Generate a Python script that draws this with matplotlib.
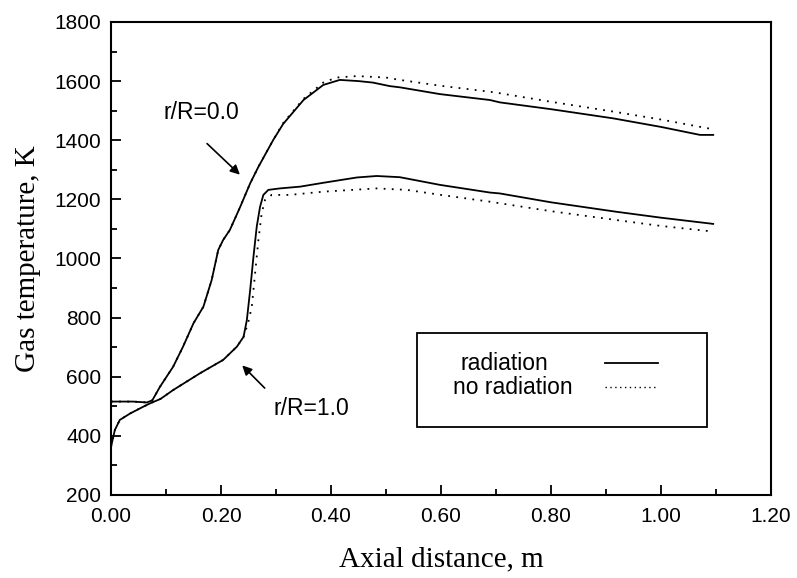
import matplotlib
matplotlib.use("Agg")
import matplotlib.pyplot as plt
from matplotlib.ticker import MultipleLocator, FormatStrFormatter
from matplotlib.patches import Rectangle

# r/R = 0.0 (centerline), with radiation
x_c_rad = [0.0, 0.04, 0.065, 0.075, 0.089, 0.113, 0.131, 0.150, 0.168, 0.183,
           0.195, 0.204, 0.216, 0.235, 0.253, 0.268, 0.295, 0.313, 0.350, 0.386,
           0.416, 0.450, 0.476, 0.507, 0.525, 0.598, 0.689, 0.707, 0.800, 0.913,
           1.000, 1.071, 1.095]
T_c_rad = [516, 516, 513, 520, 566, 634, 702, 781, 837, 927,
           1029, 1063, 1096, 1175, 1254, 1310, 1401, 1455, 1536, 1587,
           1604, 1600, 1595, 1583, 1579, 1556, 1536, 1528, 1505, 1474,
           1445, 1418, 1418]

# r/R = 0.0, no radiation
x_c_norad = [0.0, 0.04, 0.065, 0.075, 0.089, 0.113, 0.131, 0.150, 0.168, 0.183,
             0.195, 0.204, 0.216, 0.235, 0.253, 0.268, 0.295, 0.313, 0.350, 0.386,
             0.410, 0.447, 0.500, 0.525, 0.600, 0.689, 0.707, 0.800, 0.913, 1.000,
             1.095]
T_c_norad = [516, 516, 513, 520, 566, 634, 702, 781, 837, 927,
             1029, 1063, 1096, 1175, 1254, 1310, 1401, 1458, 1540, 1595,
             1612, 1617, 1612, 1604, 1584, 1564, 1559, 1530, 1497, 1470,
             1437]

# r/R = 1.0 (wall), with radiation
x_w_rad = [0.0, 0.007, 0.016, 0.035, 0.059, 0.071, 0.090, 0.113, 0.162, 0.204,
           0.229, 0.241, 0.247, 0.253, 0.259, 0.265, 0.271, 0.277, 0.286, 0.307,
           0.344, 0.386, 0.447, 0.483, 0.525, 0.598, 0.689, 0.707, 0.800, 0.919,
           1.000, 1.095]
T_w_rad = [363, 420, 454, 476, 499, 510, 525, 555, 612, 657,
           702, 735, 792, 893, 1006, 1108, 1175, 1215, 1232, 1237,
           1243, 1256, 1274, 1279, 1275, 1249, 1223, 1220, 1190, 1158,
           1138, 1117]

# r/R = 1.0, no radiation
x_w_norad = [0.0, 0.007, 0.016, 0.035, 0.059, 0.071, 0.090, 0.113, 0.162, 0.204,
             0.229, 0.241, 0.249, 0.256, 0.262, 0.268, 0.274, 0.280, 0.292, 0.325,
             0.386, 0.483, 0.538, 0.600, 0.689, 0.800, 0.919, 1.000, 1.095]
T_w_norad = [363, 420, 454, 476, 499, 510, 525, 555, 612, 657,
             702, 735, 780, 837, 950, 1063, 1153, 1198, 1215, 1215,
             1226, 1237, 1232, 1215, 1192, 1160, 1130, 1110, 1091]

x_ticks = [0.0, 0.2, 0.4, 0.6, 0.8, 1.0, 1.2]
y_ticks = [200, 400, 600, 800, 1000, 1200, 1400, 1600, 1800]
legend_labels = ["radiation", "no radiation"]

sans = "Liberation Sans"
serif = "Liberation Serif"

fig = plt.figure(figsize=(7.97, 5.78), dpi=100)
ax = fig.add_axes([0.1393, 0.1436, 0.828, 0.8184])

lw = 1.3
dot = (0, (1, 3.5))
ax.plot(x_c_rad, T_c_rad, color="black", lw=lw)
ax.plot(x_c_norad, T_c_norad, color="black", lw=lw, linestyle=dot)
ax.plot(x_w_rad, T_w_rad, color="black", lw=lw)
ax.plot(x_w_norad, T_w_norad, color="black", lw=lw, linestyle=dot)

ax.set_xlim(0, 1.2)
ax.set_ylim(200, 1800)
ax.set_xticks(x_ticks)
ax.set_yticks(y_ticks)
ax.xaxis.set_minor_locator(MultipleLocator(0.1))
ax.yaxis.set_minor_locator(MultipleLocator(100))
ax.xaxis.set_major_formatter(FormatStrFormatter("%.2f"))
ax.tick_params(which="both", direction="in", top=False, right=False, width=1.3)
ax.tick_params(which="major", length=7, labelsize=15, pad=7)
ax.tick_params(axis="x", which="major", pad=9)
ax.tick_params(which="minor", length=4)
for lab in ax.get_xticklabels() + ax.get_yticklabels():
    lab.set_fontfamily(sans)
for s in ax.spines.values():
    s.set_linewidth(1.5)

ax.set_xlabel("Axial distance, m", fontfamily=serif, fontsize=21, labelpad=14)
ax.set_ylabel("Gas temperature, K", fontfamily=serif, fontsize=21, labelpad=10)

# annotations
ax.text(0.165, 1495, "r/R=0.0", fontfamily=sans, fontsize=16.5, ha="center", va="center")
ax.annotate("", xy=(0.238, 1277), xytext=(0.171, 1395),
            arrowprops=dict(arrowstyle="-|>", lw=1.2, color="black", mutation_scale=14))
ax.text(0.364, 494, "r/R=1.0", fontfamily=sans, fontsize=16.5, ha="center", va="center")
ax.annotate("", xy=(0.235, 645), xytext=(0.283, 555),
            arrowprops=dict(arrowstyle="-|>", lw=1.2, color="black", mutation_scale=14))

# legend box
ax.add_patch(Rectangle((0.463, 0.144), 0.44, 0.198, transform=ax.transAxes,
                       facecolor="white", edgecolor="black", lw=1.3, zorder=5))
ax.text(0.529, 0.279, legend_labels[0], transform=ax.transAxes, fontfamily=sans,
        fontsize=16.5, ha="left", va="center", zorder=6)
ax.text(0.518, 0.228, legend_labels[1], transform=ax.transAxes, fontfamily=sans,
        fontsize=16.5, ha="left", va="center", zorder=6)
ax.plot([0.748, 0.829], [0.279, 0.279], transform=ax.transAxes, color="black", lw=lw, zorder=6)
ax.plot([0.748, 0.825], [0.228, 0.228], transform=ax.transAxes, color="black", lw=1.0,
        linestyle=(0, (1, 2.5)), zorder=6)

fig.savefig("out.png", dpi=100)
